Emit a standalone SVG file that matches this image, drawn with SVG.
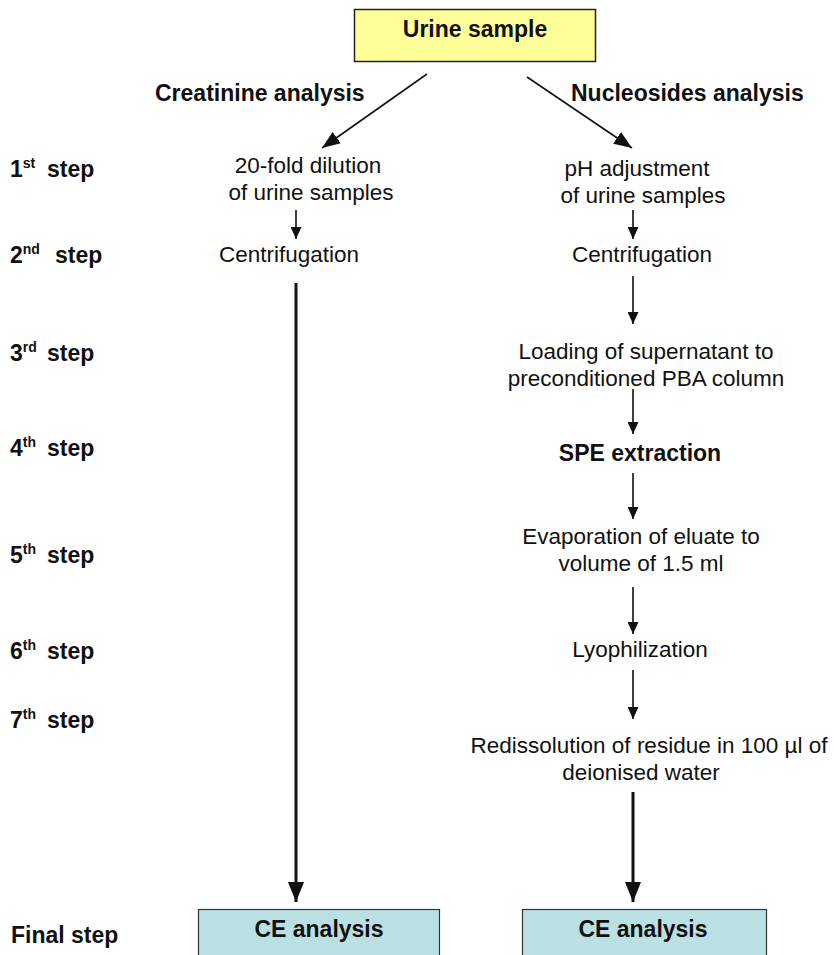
<svg xmlns="http://www.w3.org/2000/svg" width="834" height="955" viewBox="0 0 834 955">
<style>
.t{font-family:"Liberation Sans",Arial,sans-serif;font-size:22.5px;fill:#111;text-anchor:middle}
.b{font-family:"Liberation Sans",Arial,sans-serif;font-size:23px;font-weight:bold;fill:#111}
.c{text-anchor:middle}
.s{font-size:14px}
.ln{stroke:#111;stroke-width:1.6;fill:none}
.th{stroke:#111;stroke-width:3;fill:none}
</style>
<defs>
<marker id="ah" markerWidth="12" markerHeight="11" refX="12" refY="5.5" orient="auto" markerUnits="userSpaceOnUse">
<path d="M0,0 L12,5.5 L0,11 z" fill="#111"/>
</marker>
<marker id="ahb" markerWidth="20" markerHeight="16" refX="20" refY="8" orient="auto" markerUnits="userSpaceOnUse">
<path d="M0,0 L20,8 L0,16 z" fill="#111"/>
</marker>
<marker id="ahd" markerWidth="18" markerHeight="14" refX="18" refY="7" orient="auto" markerUnits="userSpaceOnUse">
<path d="M0,0 L18,7 L0,14 z" fill="#111"/>
</marker>
</defs>

<g id="urine-sample">
<rect x="354.5" y="9.5" width="241" height="52" fill="#FFFF99" stroke="#222" stroke-width="1.5"/>
<text class="b c" x="475" y="37">Urine sample</text>
</g>

<g id="headers">
<text class="b" x="155" y="101">Creatinine analysis</text>
<text class="b" x="571" y="101">Nucleosides analysis</text>
</g>

<g id="step-labels">
<text class="b" x="10" y="177">1<tspan class="s" dy="-9">st</tspan><tspan x="47" dy="9">step</tspan></text>
<text class="b" x="10" y="263">2<tspan class="s" dy="-9">nd</tspan><tspan x="55" dy="9">step</tspan></text>
<text class="b" x="10" y="361">3<tspan class="s" dy="-9">rd</tspan><tspan x="47" dy="9">step</tspan></text>
<text class="b" x="10" y="456">4<tspan class="s" dy="-9">th</tspan><tspan x="47" dy="9">step</tspan></text>
<text class="b" x="10" y="563">5<tspan class="s" dy="-9">th</tspan><tspan x="47" dy="9">step</tspan></text>
<text class="b" x="10" y="659">6<tspan class="s" dy="-9">th</tspan><tspan x="47" dy="9">step</tspan></text>
<text class="b" x="10" y="728">7<tspan class="s" dy="-9">th</tspan><tspan x="47" dy="9">step</tspan></text>
<text class="b" x="11" y="943" font-size="26">Final step</text>
</g>

<g id="dilution">
<text class="t" x="308" y="173">20-fold dilution</text>
<text class="t" x="311" y="200">of urine samples</text>
</g>
<g id="centrifugation-left"><text class="t" x="289" y="262">Centrifugation</text></g>

<g id="ph-adjustment">
<text class="t" x="637" y="176">pH adjustment</text>
<text class="t" x="643" y="203">of urine samples</text>
</g>
<g id="centrifugation-right"><text class="t" x="642" y="262">Centrifugation</text></g>
<g id="loading">
<text class="t" x="646" y="359">Loading of supernatant to</text>
<text class="t" x="646" y="386">preconditioned PBA column</text>
</g>
<g id="spe"><text class="b c" x="640" y="461">SPE extraction</text></g>
<g id="evaporation">
<text class="t" x="641" y="544">Evaporation of eluate to</text>
<text class="t" x="641" y="571">volume of 1.5 ml</text>
</g>
<g id="lyophilization"><text class="t" x="640" y="657">Lyophilization</text></g>
<g id="redissolution">
<text class="t" x="649" y="753">Redissolution of residue in 100 µl of</text>
<text class="t" x="641" y="780">deionised water</text>
</g>

<g id="ce-left">
<rect x="198.5" y="909.5" width="241" height="60" fill="#BAE0E3" stroke="#333" stroke-width="1.2"/>
<text class="b c" x="319" y="937" font-size="22.5">CE analysis</text>
</g>
<g id="ce-right">
<rect x="522.5" y="909.5" width="244" height="60" fill="#BAE0E3" stroke="#333" stroke-width="1.2"/>
<text class="b c" x="643" y="937" font-size="22.5">CE analysis</text>
</g>

<g id="connectors">
<line class="ln" x1="427" y1="74" x2="322" y2="148" marker-end="url(#ahd)"/>
<line class="ln" x1="527" y1="77" x2="632" y2="148" marker-end="url(#ahd)"/>
<line class="ln" x1="296" y1="210" x2="296" y2="239" marker-end="url(#ah)"/>
<line class="th" x1="296" y1="283" x2="296" y2="902" marker-end="url(#ahb)"/>
<line class="ln" x1="633" y1="210" x2="633" y2="239" marker-end="url(#ah)"/>
<line class="ln" x1="633" y1="276" x2="633" y2="324" marker-end="url(#ah)"/>
<line class="ln" x1="633" y1="389" x2="633" y2="434" marker-end="url(#ah)"/>
<line class="ln" x1="633" y1="473" x2="633" y2="519" marker-end="url(#ah)"/>
<line class="ln" x1="633" y1="587" x2="633" y2="634" marker-end="url(#ah)"/>
<line class="ln" x1="633" y1="670" x2="633" y2="719" marker-end="url(#ah)"/>
<line class="th" x1="633" y1="792" x2="633" y2="902" marker-end="url(#ahb)"/>
</g>
</svg>
